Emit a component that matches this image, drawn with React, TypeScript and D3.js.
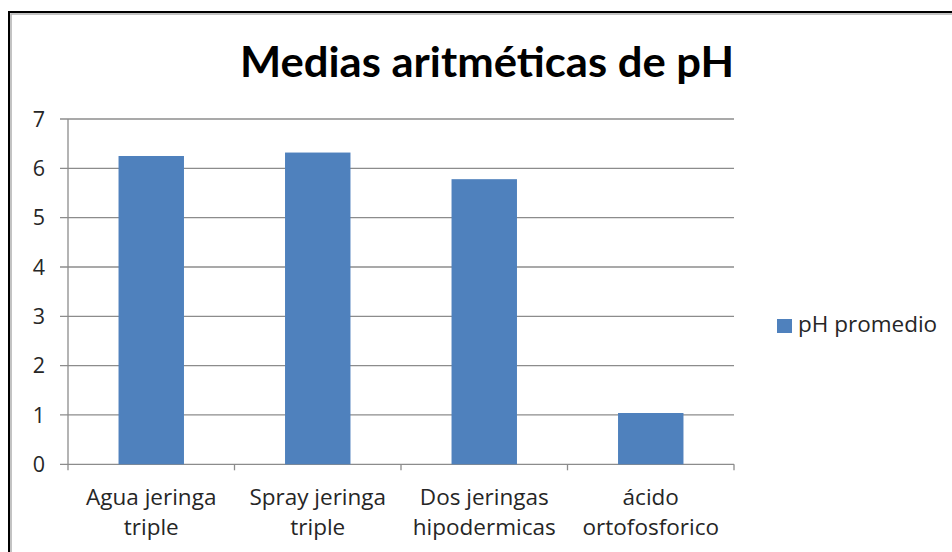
import React from "react";
import * as d3 from "d3";

// Mean pH per rinse / etching method
const categories: string[][] = [
  ["Agua jeringa", "triple"],
  ["Spray jeringa", "triple"],
  ["Dos jeringas", "hipodermicas"],
  ["ácido", "ortofosforico"],
];
const phValues: number[] = [6.25, 6.32, 5.78, 1.04];
const yTicks: number[] = [0, 1, 2, 3, 4, 5, 6, 7];
const seriesName = "pH promedio";
const chartTitle = "Medias aritméticas de pH";

const W = 952;
const H = 552;
const TITLE_FONT = "Lato, 'Open Sans', sans-serif";
const FONT = "'Open Sans', Lato, sans-serif";
const BAR = "#4F81BD";
const GRID = "#8c8c8c";
const TEXT = "#262626";

export default function App() {
  const plot = { left: 68, right: 734, top: 119, bottom: 464.3 };

  const x = d3
    .scaleBand<number>()
    .domain(d3.range(categories.length))
    .range([plot.left, plot.right])
    .paddingInner(0.607)
    .paddingOuter(0.3035);

  const y = d3.scaleLinear().domain([0, 7]).range([plot.bottom, plot.top]);

  const step = (plot.right - plot.left) / categories.length;
  const xTickPos = d3.range(categories.length + 1).map((i) => plot.left + i * step);

  return (
    <svg
      width={W}
      height={H}
      style={{ position: "absolute", left: 0, top: 0, background: "#fff" }}
    >
      <rect x={0} y={0} width={W} height={H} fill="#fff" />
      {/* frame */}
      <rect x={9} y={12} width={W + 20} height={H + 20} fill="none" stroke="#000" strokeWidth={2} />
      <rect x={11} y={14} width={W + 20} height={H + 20} fill="none" stroke="#b0b0b0" strokeWidth={1.5} />

      {/* title */}
      <text
        x={487}
        y={77}
        textAnchor="middle"
        fontFamily={TITLE_FONT}
        fontWeight={700}
        fontSize={42}
        fill="#000"
        textLength={494}
        lengthAdjust="spacingAndGlyphs"
      >
        {chartTitle}
      </text>

      {/* gridlines + y ticks */}
      {yTicks.map((t) => (
        <g key={t}>
          <line
            x1={plot.left - 8}
            x2={plot.right}
            y1={y(t)}
            y2={y(t)}
            stroke={GRID}
            strokeWidth={1.3}
          />
          <text
            x={45}
            y={y(t)}
            dy="0.36em"
            textAnchor="end"
            fontFamily={FONT}
            fontSize={21.5}
            fill={TEXT}
          >
            {t}
          </text>
        </g>
      ))}

      {/* y axis line */}
      <line
        x1={plot.left}
        x2={plot.left}
        y1={plot.top}
        y2={plot.bottom}
        stroke={GRID}
        strokeWidth={1.3}
      />

      {/* x category ticks */}
      {xTickPos.map((px, i) => (
        <line
          key={i}
          x1={px}
          x2={px}
          y1={plot.bottom}
          y2={plot.bottom + 6}
          stroke={GRID}
          strokeWidth={1.3}
        />
      ))}

      {/* bars */}
      {phValues.map((v, i) => (
        <rect
          key={i}
          x={x(i)!}
          y={y(v)}
          width={x.bandwidth()}
          height={y(0) - y(v)}
          fill={BAR}
        />
      ))}

      {/* category labels */}
      {categories.map((lines, i) => (
        <text
          key={i}
          x={x(i)! + x.bandwidth() / 2}
          y={505}
          textAnchor="middle"
          fontFamily={FONT}
          fontSize={22.5}
          fill={TEXT}
        >
          {lines.map((ln, j) => (
            <tspan key={j} x={x(i)! + x.bandwidth() / 2} dy={j === 0 ? 0 : 30}>
              {ln}
            </tspan>
          ))}
        </text>
      ))}

      {/* legend */}
      <rect x={777} y={319} width={15} height={14} fill={BAR} />
      <text x={798} y={332} fontFamily={FONT} fontSize={22.5} fill={TEXT}>
        {seriesName}
      </text>
    </svg>
  );
}
